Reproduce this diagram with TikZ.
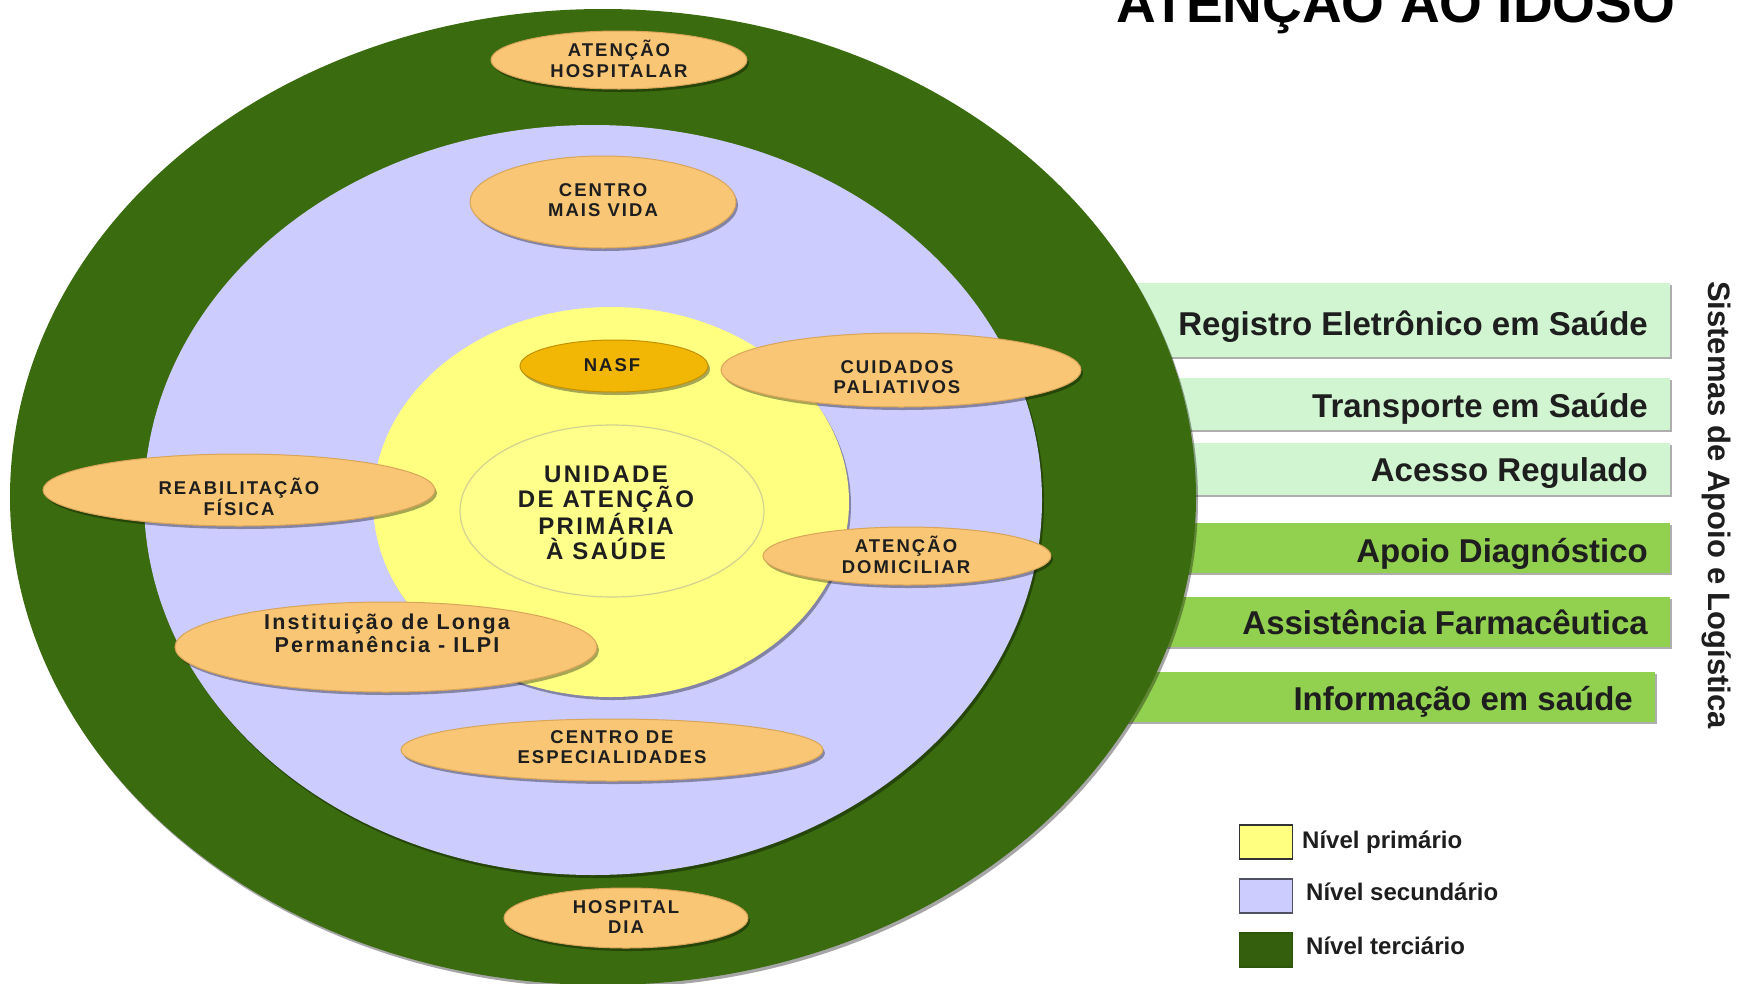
\documentclass[tikz,border=0pt]{standalone}
\usepackage{fontspec}
\setmainfont{Liberation Sans}
\newfontfamily\spaced{Liberation Sans}[LetterSpace=11]
\newfontfamily\spacedc{Liberation Sans}[LetterSpace=10]
\usetikzlibrary{shapes.geometric,shadows}
\definecolor{tgreen}{HTML}{3A6B0E}
\definecolor{lav}{HTML}{CCCCFF}
\definecolor{yel}{HTML}{FFFF80}
\definecolor{yelin}{HTML}{FFFF8C}
\definecolor{orng}{HTML}{F8C674}
\definecolor{orngrim}{HTML}{D9A55A}
\definecolor{nasfc}{HTML}{F2B705}
\definecolor{lbar}{HTML}{D0F5D0}
\definecolor{mbar}{HTML}{92D050}
\definecolor{txt}{HTML}{1E1E1E}
\tikzset{
  shd/.style={drop shadow={shadow xshift=2pt,shadow yshift=-3pt,opacity=0.35,fill=black}},
  ring/.style={ellipse,inner sep=0pt,shd},
  oval/.style={ellipse,inner sep=0pt,fill=orng,draw=orngrim,line width=1pt,shd},
  olab/.style={font=\spaced\bfseries\fontsize{18.5}{20.5}\selectfont,align=center,text=txt,inner sep=0pt},
  barbox/.style={rectangle,inner sep=0pt,anchor=north west,
    drop shadow={shadow xshift=2pt,shadow yshift=-2pt,opacity=0.45,fill=black!70}},
  bartext/.style={font=\bfseries\fontsize{33}{36}\selectfont,text=txt,anchor=base east,inner sep=0pt},
  legbox/.style={rectangle,inner sep=0pt,minimum width=53pt,minimum height=34pt,line width=1.5pt},
  legtext/.style={font=\bfseries\fontsize{24}{26}\selectfont,text=txt,anchor=base west,inner sep=0pt}
}
\begin{document}
\begin{tikzpicture}[x=1pt,y=-1pt]
\useasboundingbox (0,0) rectangle (1748,983);
\fill[white] (0,0) rectangle (1748,983);

% support bars (behind the big circle)
\node[barbox,fill=lbar,minimum width=570pt,minimum height=74pt] (b1) at (1100,283) {};
\node[barbox,fill=lbar,minimum width=570pt,minimum height=52pt] (b2) at (1100,378) {};
\node[barbox,fill=lbar,minimum width=570pt,minimum height=52pt] (b3) at (1100,443) {};
\node[barbox,fill=mbar,minimum width=570pt,minimum height=50pt] (b4) at (1100,523) {};
\node[barbox,fill=mbar,minimum width=570pt,minimum height=50pt] (b5) at (1100,597) {};
\node[barbox,fill=mbar,minimum width=575pt,minimum height=50pt] (b6) at (1080,672) {};

\node[bartext] (t1) at (1648,335) {Registro Eletrônico em Saúde};
\node[bartext] (t2) at (1648,417) {Transporte em Saúde};
\node[bartext] (t3) at (1648,481) {Acesso Regulado};
\node[bartext] (t4) at (1648,562) {Apoio Diagnóstico};
\node[bartext] (t5) at (1648,634) {Assistência Farmacêutica};
\node[bartext] (t6) at (1633,710) {Informação em saúde};

\node[font=\bfseries\fontsize{31}{34}\selectfont,text=txt,rotate=-90,inner sep=0pt] (sist) at (1717,505) {Sistemas de Apoio e Logística};

% concentric levels
\node[ring,fill=tgreen,minimum width=1186pt,minimum height=976pt] (outer) at (603,497) {};
\node[ring,fill=lav,minimum width=898pt,minimum height=750pt] (sec) at (593,500) {};
\node[ring,fill=yel,minimum width=476pt,minimum height=390pt] (prim) at (611,502) {};
\node[ellipse,inner sep=0pt,fill=yelin,draw=yel!75!black!70,line width=1.2pt,minimum width=304pt,minimum height=172pt] (ups) at (612,511) {};
\node[font=\spacedc\bfseries\fontsize{24}{25}\selectfont,align=center,text=txt,inner sep=0pt] (upsT) at (606,513) {UNIDADE\\DE ATENÇÃO\\PRIMÁRIA\\À SAÚDE};

% services
\node[oval,minimum width=256pt,minimum height=58pt] (hosp) at (619,60) {};
\node[olab] (hospT) at (619,59) {ATENÇÃO\\HOSPITALAR};
\node[oval,minimum width=266pt,minimum height=92pt] (vida) at (603,202) {};
\node[olab] (vidaT) at (603,200) {CENTRO\\MAIS VIDA};
\node[oval,fill=nasfc,draw=nasfc!80!black,minimum width=188pt,minimum height=52pt] (nasf) at (614,366) {};
\node[olab] (nasfT) at (612,365) {NASF};
\node[oval,minimum width=360pt,minimum height=74pt] (cuid) at (901,370) {};
\node[olab] (cuidT) at (897,377) {CUIDADOS\\PALIATIVOS};
\node[oval,minimum width=392pt,minimum height=72pt] (reab) at (239,490) {};
\node[olab] (reabT) at (239,497) {REABILITAÇÃO\\FÍSICA};
\node[oval,minimum width=288pt,minimum height=58pt] (domic) at (907,556) {};
\node[olab] (domicT) at (906,555) {ATENÇÃO\\DOMICILIAR};
\node[oval,minimum width=422pt,minimum height=90pt] (ilpi) at (386,647) {};
\node[font=\spacedc\bfseries\fontsize{21.5}{23}\selectfont,align=center,text=txt,inner sep=0pt] (ilpiT) at (387,633) {Instituição de Longa\\Permanência - ILPI};
\node[oval,minimum width=422pt,minimum height=62pt] (espec) at (612,750) {};
\node[olab] (especT) at (612,747) {CENTRO DE\\ESPECIALIDADES};
\node[oval,minimum width=244pt,minimum height=60pt] (hdia) at (626,918) {};
\node[olab] (hdiaT) at (626,917) {HOSPITAL\\DIA};

% title (cut by the top edge)
\node[font=\bfseries\fontsize{55}{60}\selectfont,text=black,anchor=base,inner sep=0pt] (title) at (1396,22) {ATENÇÃO AO IDOSO};

% legend
\node[legbox,fill=yel,draw=black!80] (l1) at (1266,842) {};
\node[legbox,fill=lav,draw=black!60!lav] (l2) at (1266,896) {};
\node[legbox,fill=tgreen!90!black,draw=tgreen!80!black] (l3) at (1266,950) {};
\node[legtext] (l1T) at (1302,848) {Nível primário};
\node[legtext] (l2T) at (1306,900) {Nível secundário};
\node[legtext] (l3T) at (1306,954) {Nível terciário};
\end{tikzpicture}
\end{document}
